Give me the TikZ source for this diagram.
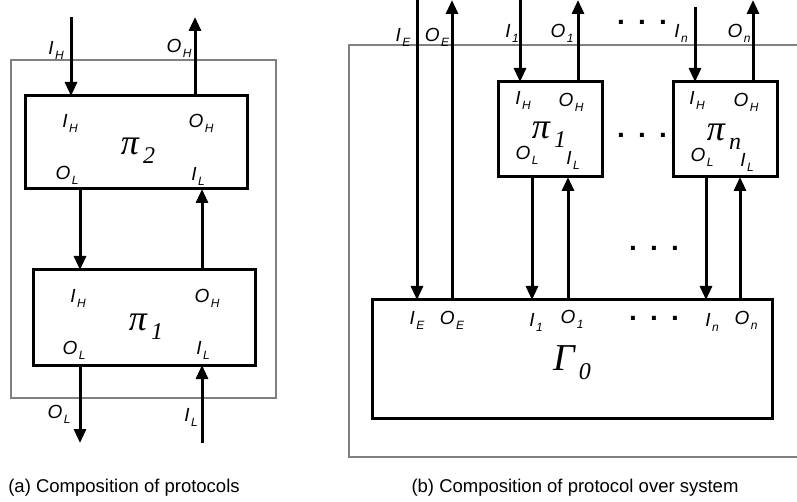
\documentclass[tikz,border=0pt]{standalone}
\usepackage{fontspec}
\setmainfont{Liberation Sans}
\newfontfamily\grk{Liberation Serif}
\usetikzlibrary{arrows.meta}
\newcommand{\lb}[2]{\textit{#1}\hspace{1.5pt}\raisebox{-5pt}{\fontsize{12}{12}\selectfont\textit{#2}}}
\newcommand{\gsym}[2]{{\grk\itshape #1\hspace{4pt}\raisebox{-9pt}{\fontsize{24}{24}\selectfont #2}}}
\newcommand{\threedots}{\makebox[21pt]{.}\makebox[21pt]{.}\makebox[21pt]{.}}
\tikzset{
  pbox/.style={draw, line width=3pt, inner sep=0pt, outer sep=0pt},
  obox/.style={draw=black!50, line width=1.2pt, inner sep=0pt, outer sep=0pt},
  arr/.style={line width=3pt, -{Triangle[length=14pt,width=12pt]}},
  lab/.style={font=\fontsize{19}{19}\selectfont, inner sep=0pt},
  big/.style={font=\fontsize{36}{38}\selectfont, inner sep=0pt},
  dotsty/.style={font=\fontsize{28}{28}\selectfont\bfseries, inner sep=0pt, anchor=base},
  captxt/.style={font=\fontsize{18.5}{20}\selectfont, inner sep=0pt}
}
\begin{document}
\begin{tikzpicture}[x=1pt,y=-1pt]
\useasboundingbox (0,0) rectangle (797,502);
% ---------- (a) ----------
\node[obox, minimum width=265, minimum height=338] (la) at (143.5,229) {};
\node[pbox, minimum width=222, minimum height=93] (p2) at (136,142.5) {};
\node[pbox, minimum width=222, minimum height=95] (p1) at (144,317.5) {};
\coordinate (aIH) at (71,17);
\coordinate (aOH) at (195,17);
\coordinate (aOL) at (80,443);
\coordinate (aIL) at (202,443);
\draw[arr] (aIH) -- (aIH |- p2.north);
\draw[arr] (aOH |- p2.north) -- (aOH);
\draw[arr] (aOL |- p2.south) -- (aOL |- p1.north);
\draw[arr] (aIL |- p1.north) -- (aIL |- p2.south);
\draw[arr] (aOL |- p1.south) -- (aOL);
\draw[arr] (aIL) -- (aIL |- p1.south);
\node[lab] (t1) at (56,50) {\lb{I}{H}};
\node[lab] (t2) at (179,48) {\lb{O}{H}};
\node[lab] (t3) at (70,123) {\lb{I}{H}};
\node[lab] (t4) at (201,123) {\lb{O}{H}};
\node[big] (t5) at (138,151) {\gsym{π}{2}};
\node[lab] (t6) at (67,175) {\lb{O}{L}};
\node[lab] (t7) at (198,176) {\lb{I}{L}};
\node[lab] (t8) at (78,298) {\lb{I}{H}};
\node[lab] (t9) at (207,298) {\lb{O}{H}};
\node[big] (t10) at (146,327) {\gsym{π}{1}};
\node[lab] (t11) at (74,350) {\lb{O}{L}};
\node[lab] (t12) at (203,350) {\lb{I}{L}};
\node[lab] (t13) at (59,414) {\lb{O}{L}};
\node[lab] (t14) at (191,417) {\lb{I}{L}};
\node[captxt] (capa) at (124,488) {(a) Composition of protocols};
% ---------- (b) ----------
\node[obox, minimum width=460, minimum height=412] (rb) at (579,251) {};
\node[pbox, minimum width=104, minimum height=95] (q1) at (550,129.5) {};
\node[pbox, minimum width=104, minimum height=95] (qn) at (725,129.5) {};
\node[pbox, minimum width=400, minimum height=118] (g) at (572,359) {};
\coordinate (bIE) at (417,0);
\coordinate (bOE) at (452,0);
\coordinate (bI1) at (520,0);
\coordinate (bO1) at (578,0);
\coordinate (bIn) at (695,7);
\coordinate (bOn) at (753,0);
\coordinate (b1OL) at (532,177);
\coordinate (b1IL) at (568,177);
\coordinate (bnOL) at (706,177);
\coordinate (bnIL) at (740,177);
\draw[arr] (bIE) -- (bIE |- g.north);
\draw[arr] (bOE |- g.north) -- (bOE);
\draw[arr] (bI1) -- (bI1 |- q1.north);
\draw[arr] (bO1 |- q1.north) -- (bO1);
\draw[arr] (bIn) -- (bIn |- qn.north);
\draw[arr] (bOn |- qn.north) -- (bOn);
\draw[arr] (b1OL |- q1.south) -- (b1OL |- g.north);
\draw[arr] (b1IL |- g.north) -- (b1IL |- q1.south);
\draw[arr] (bnOL |- qn.south) -- (bnOL |- g.north);
\draw[arr] (bnIL |- g.north) -- (bnIL |- qn.south);
% top labels
\node[lab] (u1) at (403,37) {\lb{I}{E}};
\node[lab] (u2) at (437,37) {\lb{O}{E}};
\node[lab] (u3) at (512,33) {\lb{I}{1}};
\node[lab] (u4) at (562,33) {\lb{O}{1}};
\node[lab] (u5) at (681,33) {\lb{I}{n}};
\node[lab] (u6) at (739,33) {\lb{O}{n}};
% pi_1 labels
\node[lab] (v1) at (523,100) {\lb{I}{H}};
\node[lab] (v2) at (571,102) {\lb{O}{H}};
\node[big] (v3) at (549,135) {\gsym{π}{1}};
\node[lab] (v4) at (527,155) {\lb{O}{L}};
\node[lab] (v5) at (573,160) {\lb{I}{L}};
% pi_n labels
\node[lab] (w1) at (697,100) {\lb{I}{H}};
\node[lab] (w2) at (746,102) {\lb{O}{H}};
\node[big] (w3) at (724,137) {\gsym{π}{n}};
\node[lab] (w4) at (702,157) {\lb{O}{L}};
\node[lab] (w5) at (747,162) {\lb{I}{L}};
% Gamma labels
\node[lab] (x1) at (417,320) {\lb{I}{E}};
\node[lab] (x2) at (452,320) {\lb{O}{E}};
\node[lab] (x3) at (536,322) {\lb{I}{1}};
\node[lab] (x4) at (572,319) {\lb{O}{1}};
\node[lab] (x5) at (712,322) {\lb{I}{n}};
\node[lab] (x6) at (746,320) {\lb{O}{n}};
\node[font=\fontsize{38}{40}\selectfont, inner sep=0pt] (gt) at (572,363) {\gsym{Γ}{0}};
% dots
\node[dotsty] (d1) at (642,25) {\threedots};
\node[dotsty] (d2) at (642,138) {\threedots};
\node[dotsty] (d3) at (654,251) {\threedots};
\node[dotsty] (d4) at (654,320) {\threedots};
\node[captxt] (capb) at (575,488) {(b) Composition of protocol over system};
\end{tikzpicture}
\end{document}
